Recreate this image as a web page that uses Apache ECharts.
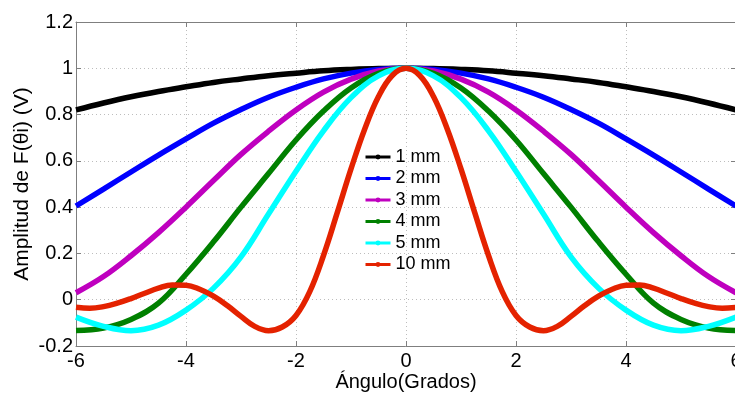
<!DOCTYPE html>
<html>
<head>
<meta charset="utf-8">
<script src="https://cdn.jsdelivr.net/npm/echarts@6/dist/echarts.min.js"></script>
<style>
  html, body { margin: 0; padding: 0; background: #fff; }
  #chart { width: 735px; height: 393px; }
</style>
</head>
<body>
<div id="chart"></div>
<script>
// angles (degrees), 0.5 step for the wide beams, 0.25 step for 10 mm
const angles = [-6, -5.5, -5, -4.5, -4, -3.5, -3, -2.5, -2, -1.5, -1, -0.5, 0,
  0.5, 1, 1.5, 2, 2.5, 3, 3.5, 4, 4.5, 5, 5.5, 6];
const angles10 = [-6, -5.75, -5.5, -5.25, -5, -4.75, -4.5, -4.25, -4, -3.75, -3.5, -3.25,
  -3, -2.75, -2.5, -2.25, -2, -1.75, -1.5, -1.25, -1, -0.75, -0.5, -0.25, 0,
  0.25, 0.5, 0.75, 1, 1.25, 1.5, 1.75, 2, 2.25, 2.5, 2.75, 3, 3.25, 3.5, 3.75,
  4, 4.25, 4.5, 4.75, 5, 5.25, 5.5, 5.75, 6];

const mm1 = [0.82, 0.85, 0.877, 0.9, 0.92, 0.939, 0.954, 0.968, 0.979, 0.989, 0.995, 0.999, 1,
  0.999, 0.995, 0.989, 0.979, 0.968, 0.954, 0.939, 0.92, 0.9, 0.877, 0.85, 0.82];
const mm2 = [0.405, 0.478, 0.552, 0.625, 0.695, 0.763, 0.822, 0.875, 0.918, 0.954, 0.979, 0.995, 1,
  0.995, 0.979, 0.954, 0.918, 0.875, 0.822, 0.763, 0.695, 0.625, 0.552, 0.478, 0.405];
const mm3 = [0.03, 0.1, 0.19, 0.29, 0.4, 0.515, 0.628, 0.728, 0.82, 0.897, 0.953, 0.988, 1,
  0.988, 0.953, 0.897, 0.82, 0.728, 0.628, 0.515, 0.4, 0.29, 0.19, 0.1, 0.03];
const mm4 = [-0.133, -0.122, -0.085, -0.015, 0.11, 0.25, 0.4, 0.545, 0.69, 0.815, 0.915, 0.978, 1,
  0.978, 0.915, 0.815, 0.69, 0.545, 0.4, 0.25, 0.11, -0.015, -0.085, -0.122, -0.133];
const mm5 = [-0.075, -0.115, -0.134, -0.11, -0.045, 0.05, 0.185, 0.37, 0.555, 0.73, 0.873, 0.967, 1,
  0.967, 0.873, 0.73, 0.555, 0.37, 0.185, 0.05, -0.045, -0.11, -0.134, -0.115, -0.075];
const mm10 = [-0.033, -0.037, -0.03, -0.015, 0.005, 0.028, 0.05, 0.064, 0.063, 0.045, 0.015, -0.025,
  -0.072, -0.115, -0.134, -0.118, -0.068, 0.035, 0.191, 0.376, 0.565, 0.738, 0.878, 0.969, 1,
  0.969, 0.878, 0.738, 0.565, 0.376, 0.191, 0.035, -0.068, -0.118, -0.134, -0.115, -0.072,
  -0.025, 0.015, 0.045, 0.063, 0.064, 0.05, 0.028, 0.005, -0.015, -0.03, -0.037, -0.033];

const names = ['1 mm', '2 mm', '3 mm', '4 mm', '5 mm', '10 mm'];
const colors = ['#000000', '#0000ff', '#bf00bf', '#008000', '#00ffff', '#e42200'];
const curves = [[angles, mm1], [angles, mm2], [angles, mm3], [angles, mm4], [angles, mm5], [angles10, mm10]];

const font = 'Liberation Sans, Arial, sans-serif';
const axisGray = '#7f7f7f';

const chart = echarts.init(document.getElementById('chart'), null, { renderer: 'canvas' });

const series = curves.map(([xs, ys], i) => ({
  name: names[i],
  type: 'line',
  data: xs.map((x, k) => [x, ys[k]]),
  smooth: 0.4,
  showSymbol: false,
  symbol: 'circle',
  symbolSize: 4,
  color: colors[i],
  lineStyle: { width: 5.5, color: colors[i] },
  xAxisIndex: 0,
  yAxisIndex: 0
}));

// top / right edges of the box: ticks only, no labels
const boxAxis = {
  axisLine: { show: true, onZero: false, lineStyle: { color: axisGray, width: 1 } },
  axisTick: { show: true, inside: true, length: 5, lineStyle: { color: axisGray } },
  axisLabel: { show: false },
  splitLine: { show: false }
};

chart.setOption({
  animation: false,
  backgroundColor: '#fff',
  grid: { left: 76, top: 22, width: 660, height: 324, containLabel: false, outerBoundsMode: 'none' },
  legend: {
    data: names,
    orient: 'vertical',
    left: 359,
    top: 143,
    itemWidth: 25,
    itemHeight: 6,
    itemGap: 3.5,
    lineStyle: { width: 3 },
    textStyle: { fontFamily: font, fontSize: 18, color: '#000', lineHeight: 18 }
  },
  xAxis: [{
    type: 'value',
    min: -6, max: 6, interval: 2,
    name: 'Ángulo(Grados)',
    nameLocation: 'middle',
    nameGap: 26,
    nameMoveOverlap: false,
    nameTextStyle: { fontFamily: font, fontSize: 20, color: '#000' },
    axisLine: { show: true, onZero: false, lineStyle: { color: axisGray, width: 1 } },
    axisTick: { show: true, inside: true, length: 5, lineStyle: { color: axisGray } },
    axisLabel: { fontFamily: font, fontSize: 20, color: '#000', margin: 5 },
    splitLine: { show: true, lineStyle: { color: '#bdbdbd', type: [1, 3], width: 1 } }
  }, Object.assign({ type: 'value', position: 'top', min: -6, max: 6, interval: 2 }, boxAxis)],
  yAxis: [{
    type: 'value',
    min: -0.2, max: 1.2, interval: 0.2,
    name: 'Amplitud de F(θi) (V)',
    nameLocation: 'middle',
    nameGap: 43,
    nameMoveOverlap: false,
    nameTextStyle: { fontFamily: font, fontSize: 21, color: '#000' },
    axisLine: { show: true, onZero: false, lineStyle: { color: axisGray, width: 1 } },
    axisTick: { show: true, inside: true, length: 5, lineStyle: { color: axisGray } },
    axisLabel: {
      fontFamily: font, fontSize: 20, color: '#000', margin: 3,
      formatter: v => String(+v.toFixed(1))
    },
    splitLine: { show: true, lineStyle: { color: '#bdbdbd', type: [1, 3], width: 1 } }
  }, Object.assign({ type: 'value', position: 'right', min: -0.2, max: 1.2, interval: 0.2 }, boxAxis)],
  series: series
});
</script>
</body>
</html>
